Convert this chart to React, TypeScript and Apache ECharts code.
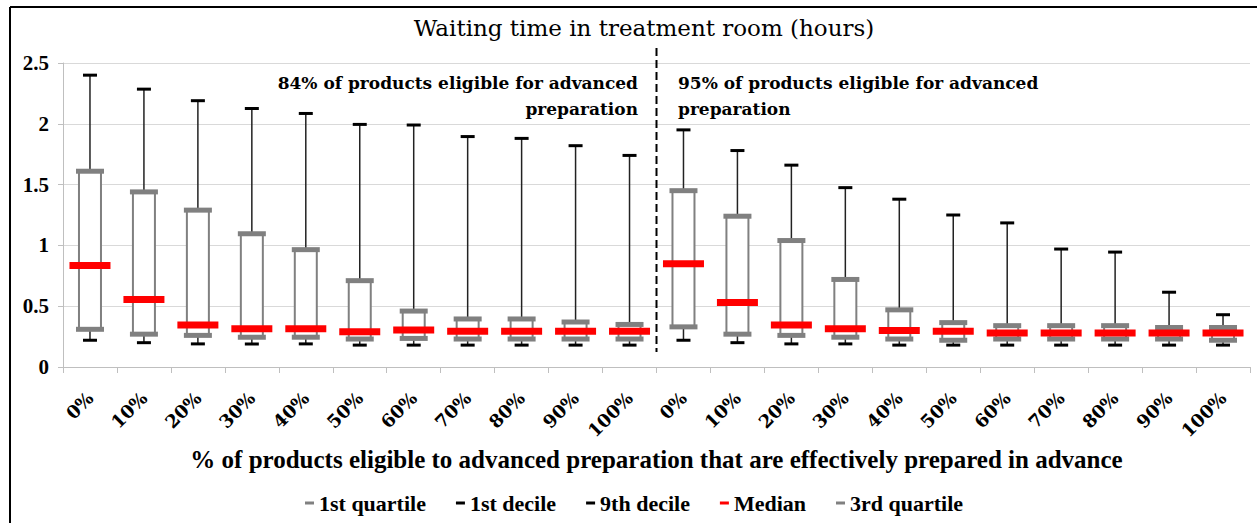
import React, { useEffect, useRef } from "react";
import * as echarts from "echarts";

const categories = [
  "0%", "10%", "20%", "30%", "40%", "50%", "60%", "70%", "80%", "90%", "100%",
  "0%", "10%", "20%", "30%", "40%", "50%", "60%", "70%", "80%", "90%", "100%",
];
const decile1 = [0.22, 0.2, 0.19, 0.19, 0.19, 0.18, 0.18, 0.18, 0.18, 0.18, 0.18, 0.22, 0.2, 0.19, 0.19, 0.18, 0.18, 0.18, 0.18, 0.18, 0.18, 0.18];
const quartile1 = [0.31, 0.27, 0.26, 0.245, 0.245, 0.23, 0.235, 0.23, 0.23, 0.23, 0.23, 0.33, 0.27, 0.26, 0.245, 0.23, 0.22, 0.23, 0.23, 0.23, 0.23, 0.22];
const median = [0.835, 0.555, 0.345, 0.315, 0.315, 0.29, 0.305, 0.295, 0.295, 0.295, 0.295, 0.85, 0.53, 0.345, 0.315, 0.3, 0.295, 0.28, 0.28, 0.28, 0.28, 0.28];
const quartile3 = [1.61, 1.44, 1.29, 1.095, 0.965, 0.71, 0.46, 0.395, 0.395, 0.37, 0.35, 1.45, 1.24, 1.04, 0.72, 0.47, 0.365, 0.34, 0.34, 0.34, 0.325, 0.325];
const decile9 = [2.4, 2.285, 2.19, 2.125, 2.085, 1.995, 1.99, 1.895, 1.88, 1.82, 1.74, 1.95, 1.78, 1.66, 1.475, 1.38, 1.25, 1.185, 0.97, 0.945, 0.615, 0.43];
const yTicks = { min: 0, max: 2.5, interval: 0.5 };
const dividerAfterIndex = 10;

const GRAY = "#808080";
const RED = "#ff0000";
const BLACK = "#000000";
const SERIF = "Liberation Serif";
const SLAB = "DejaVu Serif";

function barAt(api: any, v: number, w: number, h: number, color: string) {
  const p = api.coord([api.value(0), v]);
  return {
    type: "rect",
    shape: { x: p[0] - w / 2, y: p[1] - h / 2, width: w, height: h },
    style: { fill: color },
  };
}

export default function App() {
  const ref = useRef<HTMLDivElement>(null);
  useEffect(() => {
    document.body.style.margin = "0";
    const chart = echarts.init(ref.current!, null, { renderer: "svg" });
    const idx = categories.map((_, i) => i);
    const option: any = {
      animation: false,
      backgroundColor: "#ffffff",
      title: {
        text: "Waiting time in treatment room (hours)",
        left: 639,
        textAlign: "center",
        top: 11,
        textStyle: { fontFamily: SLAB, fontSize: 23, fontWeight: "normal", color: "#000" },
      },
      legend: {
        bottom: 4,
        left: 300,
        icon: "rect",
        itemWidth: 9,
        itemHeight: 3,
        itemGap: 30,
        data: ["1st quartile", "1st decile", "9th decile", "Median", "3rd quartile"],
        textStyle: { fontFamily: SERIF, fontWeight: "bold", fontSize: 22, color: "#000" },
      },
      grid: { left: 63, right: 7, top: 63, bottom: 156, containLabel: false },
      xAxis: {
        type: "category",
        data: categories,
        boundaryGap: true,
        axisLine: { lineStyle: { color: "#bfbfbf", width: 1 } },
        axisTick: { show: true, length: 6, lineStyle: { color: "#bfbfbf" } },
        axisLabel: {
          rotate: 45,
          interval: 0,
          margin: 28,
          fontFamily: SLAB,
          fontWeight: "bold",
          fontSize: 18,
          color: "#000",
        },
        name: "% of products eligible to advanced preparation that are effectively prepared in advance",
        nameLocation: "middle",
        nameGap: 79,
        nameTextStyle: { fontFamily: SERIF, fontWeight: "bold", fontSize: 25, color: "#000" },
      },
      yAxis: {
        type: "value",
        min: yTicks.min,
        max: yTicks.max,
        interval: yTicks.interval,
        axisLine: { show: true, lineStyle: { color: "#bfbfbf" } },
        axisTick: { show: true, length: 5, lineStyle: { color: "#bfbfbf" } },
        splitLine: { lineStyle: { color: "#d9d9d9", width: 1 } },
        axisLabel: { margin: 14, fontFamily: SERIF, fontWeight: "bold", fontSize: 21, color: "#000" },
      },
      graphic: [
        { type: "line", shape: { x1: 10, y1: 7, x2: 1257, y2: 7 }, style: { stroke: "#000", lineWidth: 2 } },
        { type: "line", shape: { x1: 10, y1: 7, x2: 10, y2: 523 }, style: { stroke: "#000", lineWidth: 2 } },
        {
          type: "text",
          x: 638,
          y: 70,
          style: {
            text: "84% of products eligible for advanced\npreparation",
            textAlign: "right",
            fontFamily: SLAB,
            fontWeight: "bold",
            fontSize: 17,
            lineHeight: 26,
            fill: "#000",
          },
        },
        {
          type: "text",
          x: 678,
          y: 70,
          style: {
            text: "95% of products eligible for advanced\npreparation",
            textAlign: "left",
            fontFamily: SLAB,
            fontWeight: "bold",
            fontSize: 17,
            lineHeight: 26,
            fill: "#000",
          },
        },
      ],
      series: [
        {
          type: "custom",
          name: "box",
          clip: false,
          data: idx.map((i) => [i, quartile1[i], quartile3[i]]),
          renderItem: (params: any, api: any) => {
            const top = api.coord([api.value(0), api.value(2)]);
            const bot = api.coord([api.value(0), api.value(1)]);
            const w = 22;
            return {
              type: "rect",
              shape: { x: top[0] - w / 2, y: top[1], width: w, height: bot[1] - top[1] },
              style: { fill: "#ffffff", stroke: GRAY, lineWidth: 2 },
            };
          },
          z: 1,
        },
        {
          type: "custom",
          name: "1st decile",
          itemStyle: { color: BLACK },
          data: idx.map((i) => [i, decile1[i], quartile1[i]]),
          renderItem: (params: any, api: any) => {
            const a = api.coord([api.value(0), api.value(1)]);
            const b = api.coord([api.value(0), api.value(2)]);
            return {
              type: "group",
              children: [
                { type: "line", shape: { x1: a[0], y1: a[1], x2: b[0], y2: b[1] }, style: { stroke: "#222", lineWidth: 1.5 } },
                barAt(api, api.value(1), 14, 3, BLACK),
              ],
            };
          },
          z: 2,
        },
        {
          type: "custom",
          name: "9th decile",
          itemStyle: { color: BLACK },
          data: idx.map((i) => [i, decile9[i], quartile3[i]]),
          renderItem: (params: any, api: any) => {
            const a = api.coord([api.value(0), api.value(1)]);
            const b = api.coord([api.value(0), api.value(2)]);
            return {
              type: "group",
              children: [
                { type: "line", shape: { x1: a[0], y1: a[1], x2: b[0], y2: b[1] }, style: { stroke: "#222", lineWidth: 1.5 } },
                barAt(api, api.value(1), 14, 3, BLACK),
              ],
            };
          },
          z: 2,
        },
        {
          type: "custom",
          name: "1st quartile",
          itemStyle: { color: GRAY },
          data: idx.map((i) => [i, quartile1[i]]),
          renderItem: (params: any, api: any) => barAt(api, api.value(1), 28, 5, GRAY),
          z: 3,
        },
        {
          type: "custom",
          name: "3rd quartile",
          itemStyle: { color: GRAY },
          data: idx.map((i) => [i, quartile3[i]]),
          renderItem: (params: any, api: any) => barAt(api, api.value(1), 28, 5, GRAY),
          z: 3,
        },
        {
          type: "custom",
          name: "Median",
          itemStyle: { color: RED },
          data: idx.map((i) => [i, median[i]]),
          renderItem: (params: any, api: any) => barAt(api, api.value(1), 41, 7, RED),
          z: 4,
        },
        {
          type: "custom",
          name: "divider",
          clip: false,
          silent: true,
          data: [[dividerAfterIndex, yTicks.min, yTicks.max]],
          renderItem: (params: any, api: any) => {
            const half = api.size([1, 0])[0] / 2;
            const top = api.coord([api.value(0), api.value(2)]);
            const bot = api.coord([api.value(0), api.value(1)]);
            const x = top[0] + half;
            return {
              type: "line",
              shape: { x1: x, y1: top[1] - 15, x2: x, y2: bot[1] - 15 },
              style: { stroke: "#000", lineWidth: 2, lineDash: [8, 4] },
            };
          },
          z: 5,
        },
      ],
    };
    chart.setOption(option);
    return () => chart.dispose();
  }, []);
  return <div ref={ref} style={{ width: 1257, height: 523 }} />;
}
